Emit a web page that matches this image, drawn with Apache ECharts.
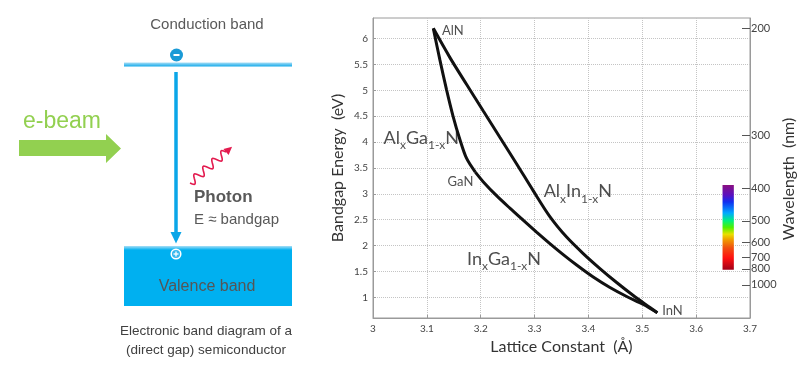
<!DOCTYPE html>
<html>
<head>
<meta charset="utf-8">
<script src="https://cdn.jsdelivr.net/npm/echarts@6/dist/echarts.min.js"></script>
<style>
html,body{margin:0;padding:0;background:#fff;}
#chart{width:807px;height:371px;}
</style>
</head>
<body>
<div id="chart"></div>
<script>
// ---------- data ----------
const xTickValues = [3, 3.1, 3.2, 3.3, 3.4, 3.5, 3.6, 3.7];
const energyTicks = [1, 1.5, 2, 2.5, 3, 3.5, 4, 4.5, 5, 5.5, 6];
const wavelengthTicks = [200, 300, 400, 500, 600, 700, 800, 1000];

const curveAlGaN = [[3.112, 6.2], [3.124, 5.600], [3.1364, 5.021], [3.1487, 4.500], [3.1612, 4.056], [3.1736, 3.689], [3.19, 3.42]];
const curveInGaN = [[3.19, 3.42], [3.2045, 3.236], [3.2294, 2.965], [3.2541, 2.724], [3.2788, 2.492], [3.3037, 2.261], [3.3284, 2.039], [3.3532, 1.826], [3.3781, 1.624], [3.4089, 1.392], [3.44, 1.189], [3.471, 1.015], [3.5019, 0.861], [3.528, 0.70]];
const curveAlInN = [[3.112, 6.2], [3.1426, 5.639], [3.1736, 5.118], [3.2045, 4.606], [3.2355, 4.095], [3.2665, 3.583], [3.2974, 3.062], [3.3284, 2.560], [3.3595, 2.164], [3.3903, 1.846], [3.4214, 1.556], [3.4524, 1.286], [3.4833, 1.035], [3.5143, 0.803], [3.528, 0.70]];

const compoundNames = ['AlN', 'GaN', 'InN'];
const compoundLabelPos = [[3.127, 6.156], [3.1872, 3.241], [3.536, 0.745]];
const compoundLabelSide = ['right', 'left', 'right'];

const alloyParts = [['Al', 'x', 'Ga', '1-x', 'N'], ['Al', 'x', 'In', '1-x', 'N'], ['In', 'x', 'Ga', '1-x', 'N']];
const alloyLabelPos = [[3.0186, 4.056], [3.316, 3.023], [3.1736, 1.712]];

const colorbarLattice = [3.649, 3.670];
const colorbarWavelength = [391, 810];

// ---------- helpers ----------
const HC = 1240; // eV*nm
const wlToE = w => HC / w;

const alloyText = parts => parts.map((p, i) => (i % 2 === 0 ? '{m|' + p + '}' : '{s|' + p + '}')).join('');

const chart = echarts.init(document.getElementById('chart'), null, {renderer: 'canvas'});

// squiggle for photon (decoration)
function squiggle() {
  const S = [190, 183], E = [226, 152];
  const dx = E[0] - S[0], dy = E[1] - S[1];
  const L = Math.hypot(dx, dy);
  const n = [-dy / L, dx / L];
  const pts = [];
  for (let i = 0; i <= 60; i++) {
    const t = i / 60;
    const a = 4 * Math.sin(2 * Math.PI * 4 * t);
    pts.push([S[0] + dx * t + n[0] * a, S[1] + dy * t + n[1] * a]);
  }
  const u = [dx / L, dy / L];
  const tip = [E[0] + u[0] * 8, E[1] + u[1] * 8];
  const head = [tip, [E[0] + n[0] * 4, E[1] + n[1] * 4], [E[0] - n[0] * 4, E[1] - n[1] * 4]];
  return {pts, head};
}
const sq = squiggle();

const gray = '#9a9a9a';
const cbGradient = new echarts.graphic.LinearGradient(0, 0, 0, 1, [
  {offset: 0, color: '#8a1080'}, {offset: 0.12, color: '#5a10c0'}, {offset: 0.2, color: '#1030f0'},
  {offset: 0.33, color: '#00a8ff'}, {offset: 0.42, color: '#00f080'}, {offset: 0.5, color: '#50f000'},
  {offset: 0.58, color: '#e8e000'}, {offset: 0.64, color: '#f0a000'}, {offset: 0.74, color: '#f05010'},
  {offset: 0.86, color: '#ff1010'}, {offset: 1, color: '#a00018'}
]);

const option = {
  animation: false,
  textStyle: {fontFamily: 'Lato'},
  grid: {left: 373, top: 18, width: 377, height: 300, show: true, borderColor: gray, borderWidth: 1},
  xAxis: {
    type: 'value', min: 3, max: 3.7, interval: 0.1,
    axisLine: {lineStyle: {color: gray}},
    axisTick: {inside: true, length: 3, lineStyle: {color: gray}},
    axisLabel: {fontSize: 10, color: '#444', margin: 6, formatter: v => String(+v.toFixed(1))},
    splitLine: {show: true, lineStyle: {type: 'dotted', color: '#c4c4c4'}},
    name: 'Lattice Constant  (Å)', nameLocation: 'middle', nameGap: 20,
    nameTextStyle: {fontSize: 16, color: '#333'}
  },
  yAxis: [{
    type: 'value', min: 0.6, max: 6.4,
    axisLine: {show: true, lineStyle: {color: gray}},
    axisTick: {show: true, inside: true, length: 3, customValues: energyTicks, lineStyle: {color: gray}},
    axisLabel: {fontSize: 10, color: '#444', margin: 5, customValues: energyTicks, formatter: v => String(+v.toFixed(1))},
    splitLine: {show: true, lineStyle: {type: 'dotted', color: '#c4c4c4'}},
    name: 'Bandgap Energy  (eV)', nameLocation: 'middle', nameRotate: 90, nameGap: 27,
    nameTextStyle: {fontSize: 16, color: '#333'}
  }, {
    type: 'value', min: 0.6, max: 6.4, position: 'right',
    axisLine: {show: true, lineStyle: {color: gray}},
    axisTick: {show: true, inside: true, length: 8, customValues: wavelengthTicks.map(wlToE), lineStyle: {color: '#555'}},
    axisLabel: {fontSize: 11, color: '#444', margin: 1, customValues: wavelengthTicks.map(wlToE), formatter: v => String(Math.round(HC / v / 10) * 10)},
    splitLine: {show: false},
    name: 'Wavelength  (nm)', nameLocation: 'middle', nameRotate: 90, nameGap: 30,
    nameTextStyle: {fontSize: 16, color: '#333', padding: [0, 22, 0, 0]}
  }],
  series: [
    {type: 'line', data: curveAlGaN, symbol: 'none', smooth: 0.3, lineStyle: {color: '#111', width: 3}},
    {type: 'line', data: curveInGaN, symbol: 'none', smooth: 0.3, lineStyle: {color: '#111', width: 3}},
    {type: 'line', data: curveAlInN, symbol: 'none', smooth: 0.3, lineStyle: {color: '#111', width: 3}},
    {
      type: 'custom',
      data: [[colorbarLattice[0], wlToE(colorbarWavelength[0]), colorbarLattice[1], wlToE(colorbarWavelength[1])]],
      encode: {x: [0, 2], y: [1, 3]},
      renderItem: (params, api) => {
        const p0 = api.coord([api.value(0), api.value(1)]);
        const p1 = api.coord([api.value(2), api.value(3)]);
        return {type: 'rect', shape: {x: p0[0], y: p0[1], width: p1[0] - p0[0], height: p1[1] - p0[1]}, style: {fill: cbGradient}};
      }
    },
    {
      type: 'scatter', symbolSize: 1, itemStyle: {color: 'rgba(0,0,0,0)'},
      data: compoundNames.map((n, i) => ({value: compoundLabelPos[i], name: n,
        label: {show: true, position: compoundLabelSide[i], distance: 0, formatter: n, fontSize: 13, color: '#222'}}))
    },
    {
      type: 'scatter', symbolSize: 1, itemStyle: {color: 'rgba(0,0,0,0)'},
      data: alloyParts.map((p, i) => ({value: alloyLabelPos[i],
        label: {show: true, position: 'right', distance: 0, formatter: alloyText(p),
          rich: {
            m: {fontSize: 18, color: '#222', lineHeight: 20, verticalAlign: 'top'},
            s: {fontSize: 12, color: '#222', lineHeight: 12, verticalAlign: 'top', padding: [10, 0, 0, 0]}
          }}}))
    }
  ],
  graphic: [
    {type: 'text', style: {x: 207, y: 25, text: 'Conduction band', align: 'center', verticalAlign: 'middle', font: '15px "Liberation Sans"', fill: '#595959'}},
    {type: 'rect', shape: {x: 124, y: 62.5, width: 168, height: 4}, style: {fill: new echarts.graphic.LinearGradient(0, 0, 0, 1, [{offset: 0, color: '#a8def6'}, {offset: 1, color: '#14aaea'}])}},
    {type: 'circle', shape: {cx: 176.5, cy: 55, r: 6.5}, style: {fill: '#1a9ad6'}},
    {type: 'line', shape: {x1: 173.5, y1: 55, x2: 179.5, y2: 55}, style: {stroke: '#fff', lineWidth: 2}},
    {type: 'line', shape: {x1: 176, y1: 72, x2: 176, y2: 234}, style: {stroke: '#0aa6e8', lineWidth: 3.5}},
    {type: 'polygon', shape: {points: [[170.5, 232], [181.5, 232], [176, 243.5]]}, style: {fill: '#0aa6e8'}},
    {type: 'rect', shape: {x: 124, y: 246, width: 168, height: 60}, style: {fill: '#00b0f0'}},
    {type: 'rect', shape: {x: 124, y: 246, width: 168, height: 4}, style: {fill: new echarts.graphic.LinearGradient(0, 0, 0, 1, [{offset: 0, color: '#a8def6'}, {offset: 1, color: '#00b0f0'}])}},
    {type: 'circle', shape: {cx: 176, cy: 254, r: 4.8}, style: {fill: '#38b8ee', stroke: '#fff', lineWidth: 1.5}},
    {type: 'line', shape: {x1: 173.5, y1: 254, x2: 178.5, y2: 254}, style: {stroke: '#fff', lineWidth: 1.3}},
    {type: 'line', shape: {x1: 176, y1: 251.5, x2: 176, y2: 256.5}, style: {stroke: '#fff', lineWidth: 1.3}},
    {type: 'text', style: {x: 207, y: 287, text: 'Valence band', align: 'center', verticalAlign: 'middle', font: '16px "Liberation Sans"', fill: '#555'}},
    {type: 'text', style: {x: 23, y: 122, text: 'e-beam', align: 'left', verticalAlign: 'middle', font: '23px "Liberation Sans"', fill: '#92d050'}},
    {type: 'polygon', shape: {points: [[19, 140], [106, 140], [106, 134], [121, 148.5], [106, 163], [106, 156], [19, 156]]}, style: {fill: '#92d050'}},
    {type: 'polyline', shape: {points: sq.pts}, style: {stroke: '#e31b4f', lineWidth: 1.6, fill: null}},
    {type: 'polygon', shape: {points: sq.head}, style: {fill: '#e31b4f'}},
    {type: 'text', style: {x: 194, y: 197, text: 'Photon', align: 'left', verticalAlign: 'middle', font: 'bold 17px "Liberation Sans"', fill: '#595959'}},
    {type: 'text', style: {x: 194, y: 220, text: 'E ≈ bandgap', align: 'left', verticalAlign: 'middle', font: '15px "Liberation Sans"', fill: '#595959'}},
    {type: 'text', style: {x: 206, y: 331, text: 'Electronic band diagram of a', align: 'center', verticalAlign: 'middle', font: '13.5px "Liberation Sans"', fill: '#404040'}},
    {type: 'text', style: {x: 206, y: 350, text: '(direct gap) semiconductor', align: 'center', verticalAlign: 'middle', font: '13.5px "Liberation Sans"', fill: '#404040'}}
  ]
};
chart.setOption(option);
</script>
</body>
</html>
